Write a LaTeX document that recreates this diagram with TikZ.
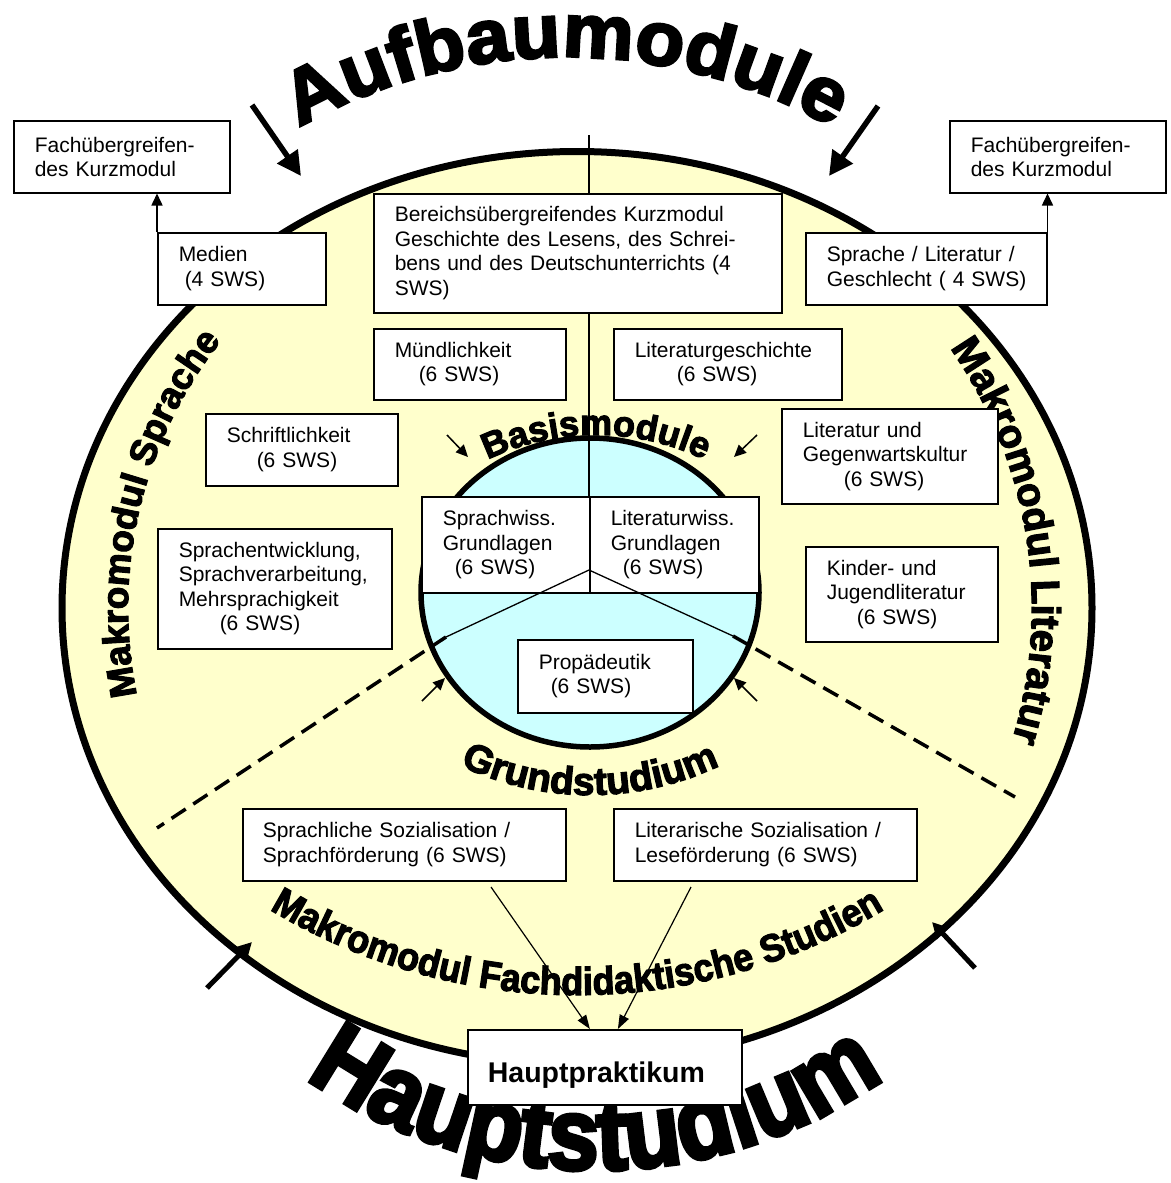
\documentclass[tikz,border=0pt]{standalone}
\usepackage{fontspec}
\setmainfont{Liberation Sans}
\newfontfamily\wafont{Liberation Sans}[FakeBold=3]
\newfontfamily\wafontw{Liberation Sans}[FakeBold=3.5,FakeStretch=1.05]
\newfontfamily\wafonth{Liberation Sans}[FakeBold=4,FakeStretch=0.9]
\newfontfamily\wafontn{Liberation Sans}[FakeBold=3,FakeStretch=0.92]
\usetikzlibrary{arrows.meta,shapes.geometric,decorations.text,calc}
\definecolor{paleyellow}{HTML}{FFFFCC}
\definecolor{palecyan}{HTML}{CCFFFF}
\newcommand\ind[1]{\hspace*{#1pt}}
\newcommand\fAufbau{\wafontw\bfseries\fontsize{76}{76}\selectfont}
\newcommand\fHaupt{\wafonth\bfseries\fontsize{102}{102}\selectfont}
\newcommand\fGrund{\wafont\bfseries\fontsize{39}{39}\selectfont}
\newcommand\fBasis{\wafont\bfseries\fontsize{36}{36}\selectfont}
\newcommand\fFach{\wafontn\bfseries\fontsize{39}{39}\selectfont}
\newcommand\fSpr{\wafont\bfseries\fontsize{37}{37}\selectfont}
\newcommand\fLit{\wafont\bfseries\fontsize{40}{40}\selectfont}
\begin{document}
\begin{tikzpicture}[x=1pt,y=-1pt,
  box/.style={draw, fill=white, line width=1.5pt, rectangle, anchor=north west,
    inner xsep=0pt, inner ysep=0pt, align=left, font=\fontsize{21}{24.5}\selectfont},
  bigarrow/.style={line width=5.5pt, -{Triangle[length=24pt,width=24pt]}},
  botarrow/.style={line width=5pt, -{Triangle[length=16pt,width=16pt]}},
  smallarrow/.style={line width=1.5pt, -{Triangle[length=12pt,width=11pt]}},
  thinarrow/.style={line width=1.2pt, -{Triangle[length=14pt,width=10pt]}},
  divline/.style={line width=3.5pt, dash pattern=on 17pt off 9pt},
  curved/.style={decorate, decoration={text along path, text align=center, text={#1}}}
]
\useasboundingbox (0,0) rectangle (1170,1183);
\fill[white] (0,0) rectangle (1170,1183);

% outer ellipse and inner circle
\node[draw, ellipse, fill=paleyellow, line width=7pt, minimum width=1030pt, minimum height=913pt, inner sep=0pt] (makro) at (577,608) {};
\node[draw, ellipse, fill=palecyan, line width=5.5pt, minimum width=338pt, minimum height=309pt, inner sep=0pt] (basis) at (590,592.5) {};

% vertical divider
\coordinate (vtop) at (589,135);
\coordinate (cc) at (589,570);
\draw[line width=1.3pt] (vtop) -- (cc);

% curved titles
\path[curved={|\fAufbau|Aufbaumodule}] ([shift={(235:540)}]566,597) arc[start angle=235, end angle=305, radius=540];
\path[curved={|\fHaupt|Hauptstudium}] ([shift={(130:500)}]595,670) arc[start angle=130, end angle=50, radius=500];
\path[curved={|\fGrund|Grundstudium}] ([shift={(120:300)}]590,495) arc[start angle=120, end angle=60, radius=300];
\path[curved={|\fBasis|Basismodule}] ([shift={(240:250)}]596,685) arc[start angle=240, end angle=300, radius=250];
\path[curved={|\fFach|Makromodul Fachdidaktische Studien}] ([shift={(125:595)}]577,400) arc[start angle=125, end angle=55, radius=595];
\path[curved={|\fSpr|Makromodul Sprache}] ([shift={(158:449 and 438)}]577,608) arc[start angle=158, end angle=228, x radius=449, y radius=438];
\path[curved={|\fLit|Makromodul Literatur}] ([shift={(320:455 and 454)}]577,608) arc[start angle=320, end angle=382, x radius=455, y radius=454];

% boxes
\node[box, text width=216pt, minimum height=72pt] (fachL) at (13,120) {\ind{21}Fachübergreifen-\\\ind{21}des Kurzmodul};
\node[box, text width=216pt, minimum height=72pt] (fachR) at (949,120) {\ind{21}Fachübergreifen-\\\ind{21}des Kurzmodul};
\node[box, text width=168pt, minimum height=72pt] (medien) at (157,232) {\ind{21}Medien\\\ind{27}(4 SWS)};
\node[box, text width=408pt, minimum height=119pt] (bereich) at (373,193) {\ind{21}Bereichsübergreifendes Kurzmodul\\\ind{21}Geschichte des Lesens, des Schrei-\\\ind{21}bens und des Deutschunterrichts (4\\\ind{21}SWS)};
\node[box, text width=241pt, minimum height=72pt] (slg) at (805,232) {\ind{21}Sprache / Literatur /\\\ind{21}Geschlecht ( 4 SWS)};
\node[box, text width=192pt, minimum height=71pt] (muend) at (373,328) {\ind{21}Mündlichkeit\\\ind{45}(6 SWS)};
\node[box, text width=228pt, minimum height=71pt] (litg) at (613,328) {\ind{21}Literaturgeschichte\\\ind{63}(6 SWS)};
\node[box, text width=192pt, minimum height=72pt] (schrift) at (205,413) {\ind{21}Schriftlichkeit\\\ind{51}(6 SWS)};
\node[box, text width=216pt, minimum height=95pt] (litgeg) at (781,408) {\ind{21}Literatur und\\\ind{21}Gegenwartskultur\\\ind{62}(6 SWS)};
\node[box, text width=234pt, minimum height=120pt] (sprent) at (157,528) {\ind{21}Sprachentwicklung,\\\ind{21}Sprachverarbeitung,\\\ind{21}Mehrsprachigkeit\\\ind{62}(6 SWS)};
\node[box, text width=192pt, minimum height=95pt] (kjl) at (805,546) {\ind{21}Kinder- und\\\ind{21}Jugendliteratur\\\ind{51}(6 SWS)};
\node[box, text width=168pt, minimum height=96pt] (swg) at (421,496) {\ind{21}Sprachwiss.\\\ind{21}Grundlagen\\\ind{33}(6 SWS)};
\node[box, text width=169pt, minimum height=96pt] (lwg) at (589,496) {\ind{21}Literaturwiss.\\\ind{21}Grundlagen\\\ind{33}(6 SWS)};
\node[box, text width=175pt, minimum height=73pt] (prop) at (517,639) {\ind{21}Propädeutik\\\ind{33}(6 SWS)};
\node[box, text width=323pt, minimum height=72pt] (sozS) at (242,808) {\ind{20}Sprachliche Sozialisation /\\\ind{20}Sprachförderung (6 SWS)};
\node[box, text width=303pt, minimum height=72pt] (sozL) at (613,808) {\ind{21}Literarische Sozialisation /\\\ind{21}Leseförderung (6 SWS)};
\node[box, text width=274pt, minimum height=75pt, line width=1.8pt, font=\bfseries\fontsize{28.5}{30}\selectfont] (haupt) at (467,1029) {\ind{20}\raisebox{-8pt}[\height][\depth]{Hauptpraktikum}};

% division lines of the basic circle
\coordinate (dl1) at (446,637);
\coordinate (dl2) at (157,828);
\coordinate (dr1) at (733,636);
\coordinate (dr2) at (1015,797);
\draw[line width=1.3pt] (cc) -- (dl1);
\draw[line width=1.3pt] (cc) -- (dr1);
\draw[divline] (dl1) -- (dl2);
\draw[divline] (dr1) -- (dr2);

% arrows to the interdisciplinary short modules
\draw[smallarrow] (medien.north west) -- (medien.north west |- fachL.south);
\draw[smallarrow] (slg.north east) -- (slg.north east |- fachR.south);

% big arrows
\coordinate (a1s) at (252,105); \coordinate (a1e) at (301,176);
\coordinate (a2s) at (878,106); \coordinate (a2e) at (829,176);
\coordinate (a3s) at (207,988); \coordinate (a3e) at (252,942);
\coordinate (a4s) at (975,968); \coordinate (a4e) at (932,922);
\draw[bigarrow] (a1s) -- (a1e);
\draw[bigarrow] (a2s) -- (a2e);
\draw[botarrow] (a3s) -- (a3e);
\draw[botarrow] (a4s) -- (a4e);

% small arrows at the basic circle
\coordinate (b1s) at (447,435); \coordinate (b1e) at (468,457);
\coordinate (b2s) at (757,435); \coordinate (b2e) at (734,457);
\coordinate (b3s) at (422,701); \coordinate (b3e) at (445,678);
\coordinate (b4s) at (757,701); \coordinate (b4e) at (734,678);
\draw[smallarrow] (b1s) -- (b1e);
\draw[smallarrow] (b2s) -- (b2e);
\draw[smallarrow] (b3s) -- (b3e);
\draw[smallarrow] (b4s) -- (b4e);

% arrows to Hauptpraktikum
\coordinate (h1s) at (491,887);
\coordinate (h2s) at (691,887);
\draw[thinarrow] (h1s) -- ($(haupt.north)+(-15,0)$);
\draw[thinarrow] (h2s) -- ($(haupt.north)+(13,0)$);
\end{tikzpicture}
\end{document}
